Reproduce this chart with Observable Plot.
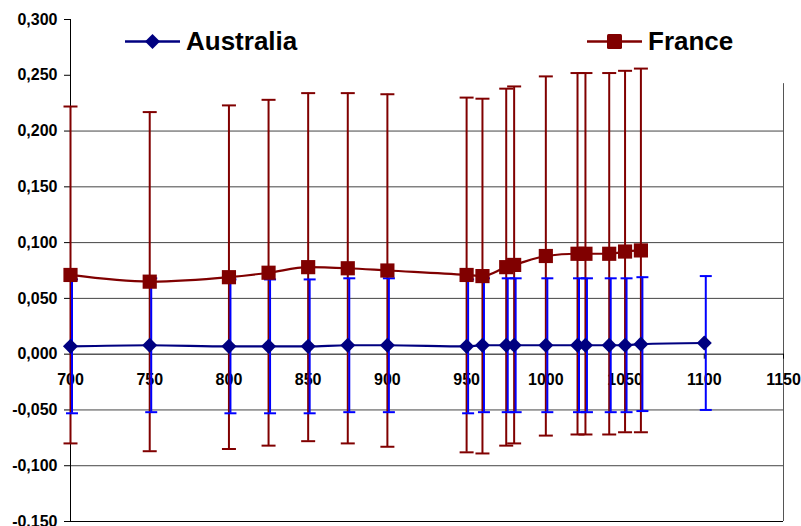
<!DOCTYPE html>
<html>
<head>
<meta charset="utf-8">
<script src="https://cdn.jsdelivr.net/npm/d3@7"></script>
<script src="https://cdn.jsdelivr.net/npm/@observablehq/plot@0.6"></script>
<style>
  body { margin: 0; background: #fff; }
  #wrap { position: relative; width: 801px; height: 526px; font-family: "Liberation Sans", Arial, sans-serif; }
  #legend { position: absolute; left: 0; top: 0; pointer-events: none; }
  #wrap svg text { font-weight: bold; }
</style>
</head>
<body>
<div id="wrap"></div>
<script>
// ---- data ----
const ausX      = [700, 750, 800, 825, 850, 875, 900, 950, 960, 975, 980, 1000, 1020, 1025, 1040, 1050, 1060, 1100];
const ausValues = [0.007, 0.008, 0.007, 0.007, 0.007, 0.008, 0.008, 0.007, 0.008, 0.008, 0.008, 0.008, 0.008, 0.008, 0.008, 0.008, 0.009, 0.010];
const ausErr    = [0.060, 0.060, 0.060, 0.060, 0.060, 0.060, 0.060, 0.060, 0.060, 0.060, 0.060, 0.060, 0.060, 0.060, 0.060, 0.060, 0.060, 0.060];

const franceX      = [700, 750, 800, 825, 850, 875, 900, 950, 960, 975, 980, 1000, 1020, 1025, 1040, 1050, 1060];
const franceValues = [0.071, 0.065, 0.069, 0.073, 0.078, 0.077, 0.075, 0.071, 0.070, 0.078, 0.080, 0.088, 0.090, 0.090, 0.090, 0.092, 0.093];
const franceErr    = [0.151, 0.152, 0.154, 0.155, 0.156, 0.157, 0.158, 0.159, 0.159, 0.160, 0.160, 0.161, 0.162, 0.162, 0.162, 0.162, 0.163];

const xTicks = [700, 750, 800, 850, 900, 950, 1000, 1050, 1100, 1150];
const yTicks = [-0.15, -0.1, -0.05, 0, 0.05, 0.1, 0.15, 0.2, 0.25, 0.3];
const gridLines = [-0.1, -0.05, 0.05, 0.1, 0.15, 0.2];
const seriesNames = ["Australia", "France"];

// ---- build tables ----
const aus = ausX.map((x, i) => ({x, v: ausValues[i], e: ausErr[i]}));
const fra = franceX.map((x, i) => ({x, v: franceValues[i], e: franceErr[i]}));

const AUS_LINE = "#000080", AUS_ERR = "#0000ff", FRA = "#800000";

const hline = {
  draw(context, size) {
    const r = Math.sqrt(size / Math.PI);
    context.moveTo(-r, 0);
    context.lineTo(r, 0);
  }
};

const fmt = d => d.toFixed(3).replace(".", ",");

const chart = Plot.plot({
  width: 801,
  height: 526,
  marginLeft: 70,
  marginRight: 18,
  marginTop: 19,
  marginBottom: 5,
  style: {fontFamily: "'Liberation Sans', Arial, sans-serif", fontSize: "16px", fontWeight: "bold", color: "#000", background: "#fff"},
  x: {domain: [700, 1150], axis: null},
  y: {domain: [-0.15, 0.3]},
  marks: [
    // grid
    Plot.ruleY(gridLines, {stroke: "#444", strokeWidth: 1}),
    Plot.ruleY([-0.15], {stroke: "#000", strokeWidth: 1}),
    Plot.ruleX([1150], {y1: 0.2425, y2: -0.15, stroke: "#555", strokeWidth: 1}),
    Plot.ruleX([700], {stroke: "#000", strokeWidth: 1}),
    Plot.axisY({ticks: yTicks, tickFormat: fmt, tickSize: 6, tickPadding: 7, label: null, fontSize: 16, fontWeight: "bold", stroke: "#000"}),
    // x axis at zero
    Plot.ruleY([0], {stroke: "#000", strokeWidth: 1}),
    Plot.ruleX(xTicks, {x: d => d, y1: 0, y2: -0.0045, stroke: "#000"}),
    Plot.text(xTicks, {x: d => d, y: 0, dy: 26, text: d => String(d), fill: "#000", fontSize: 16, fontWeight: "bold"}),
    // France error bars
    Plot.ruleX(fra, {x: "x", y1: d => d.v - d.e, y2: d => d.v + d.e, stroke: FRA, strokeWidth: 2}),
    Plot.dot(fra, {x: "x", y: d => d.v + d.e, symbol: hline, r: 7, stroke: FRA, strokeWidth: 2, fill: "none"}),
    Plot.dot(fra, {x: "x", y: d => d.v - d.e, symbol: hline, r: 7, stroke: FRA, strokeWidth: 2, fill: "none"}),
    // Australia error bars
    Plot.ruleX(aus, {x: "x", y1: d => d.v - d.e, y2: d => d.v + d.e, stroke: AUS_ERR, strokeWidth: 2, dx: 1.5}),
    Plot.dot(aus, {x: "x", y: d => d.v + d.e, symbol: hline, r: 6, stroke: AUS_ERR, strokeWidth: 2, fill: "none", dx: 1.5}),
    Plot.dot(aus, {x: "x", y: d => d.v - d.e, symbol: hline, r: 6, stroke: AUS_ERR, strokeWidth: 2, fill: "none", dx: 1.5}),
    // lines
    Plot.line(aus, {x: "x", y: "v", stroke: AUS_LINE, strokeWidth: 2.2, curve: "monotone-x"}),
    Plot.line(fra, {x: "x", y: "v", stroke: FRA, strokeWidth: 2.2, curve: "monotone-x"}),
    // markers
    Plot.dot(aus, {x: "x", y: "v", symbol: "diamond2", r: 6.8, fill: AUS_LINE, stroke: "none"}),
    Plot.dot(fra, {x: "x", y: "v", symbol: "square", r: 8, fill: FRA, stroke: "none"})
  ]
});

const wrap = document.getElementById("wrap");
wrap.appendChild(chart);

// ---- legend (overlay) ----
const ns = "http://www.w3.org/2000/svg";
const leg = document.createElementNS(ns, "svg");
leg.setAttribute("id", "legend");
leg.setAttribute("width", 801);
leg.setAttribute("height", 83);
const items = [
  {name: seriesNames[0], color: AUS_LINE, x0: 125, symbol: "diamond"},
  {name: seriesNames[1], color: FRA, x0: 587, symbol: "square"}
];
for (const it of items) {
  const g = document.createElementNS(ns, "g");
  const ln = document.createElementNS(ns, "line");
  ln.setAttribute("x1", it.x0); ln.setAttribute("x2", it.x0 + 55);
  ln.setAttribute("y1", 41.5); ln.setAttribute("y2", 41.5);
  ln.setAttribute("stroke", it.color); ln.setAttribute("stroke-width", 2.5);
  g.appendChild(ln);
  const cx = it.x0 + 27.5, cy = 41.5;
  if (it.symbol === "diamond") {
    const p = document.createElementNS(ns, "path");
    p.setAttribute("d", `M${cx},${cy-7.5}L${cx+7.5},${cy}L${cx},${cy+7.5}L${cx-7.5},${cy}Z`);
    p.setAttribute("fill", it.color);
    g.appendChild(p);
  } else {
    const r = document.createElementNS(ns, "rect");
    r.setAttribute("x", cx - 7.5); r.setAttribute("y", cy - 7.5);
    r.setAttribute("width", 15); r.setAttribute("height", 15);
    r.setAttribute("rx", 1.5);
    r.setAttribute("fill", it.color);
    g.appendChild(r);
  }
  const t = document.createElementNS(ns, "text");
  t.setAttribute("x", it.x0 + 61); t.setAttribute("y", 50);
  t.setAttribute("font-family", "'Liberation Sans', Arial, sans-serif");
  t.setAttribute("font-size", 26); t.setAttribute("font-weight", "bold");
  t.setAttribute("fill", "#000");
  t.textContent = it.name;
  g.appendChild(t);
  leg.appendChild(g);
}
wrap.appendChild(leg);
</script>
</body>
</html>
